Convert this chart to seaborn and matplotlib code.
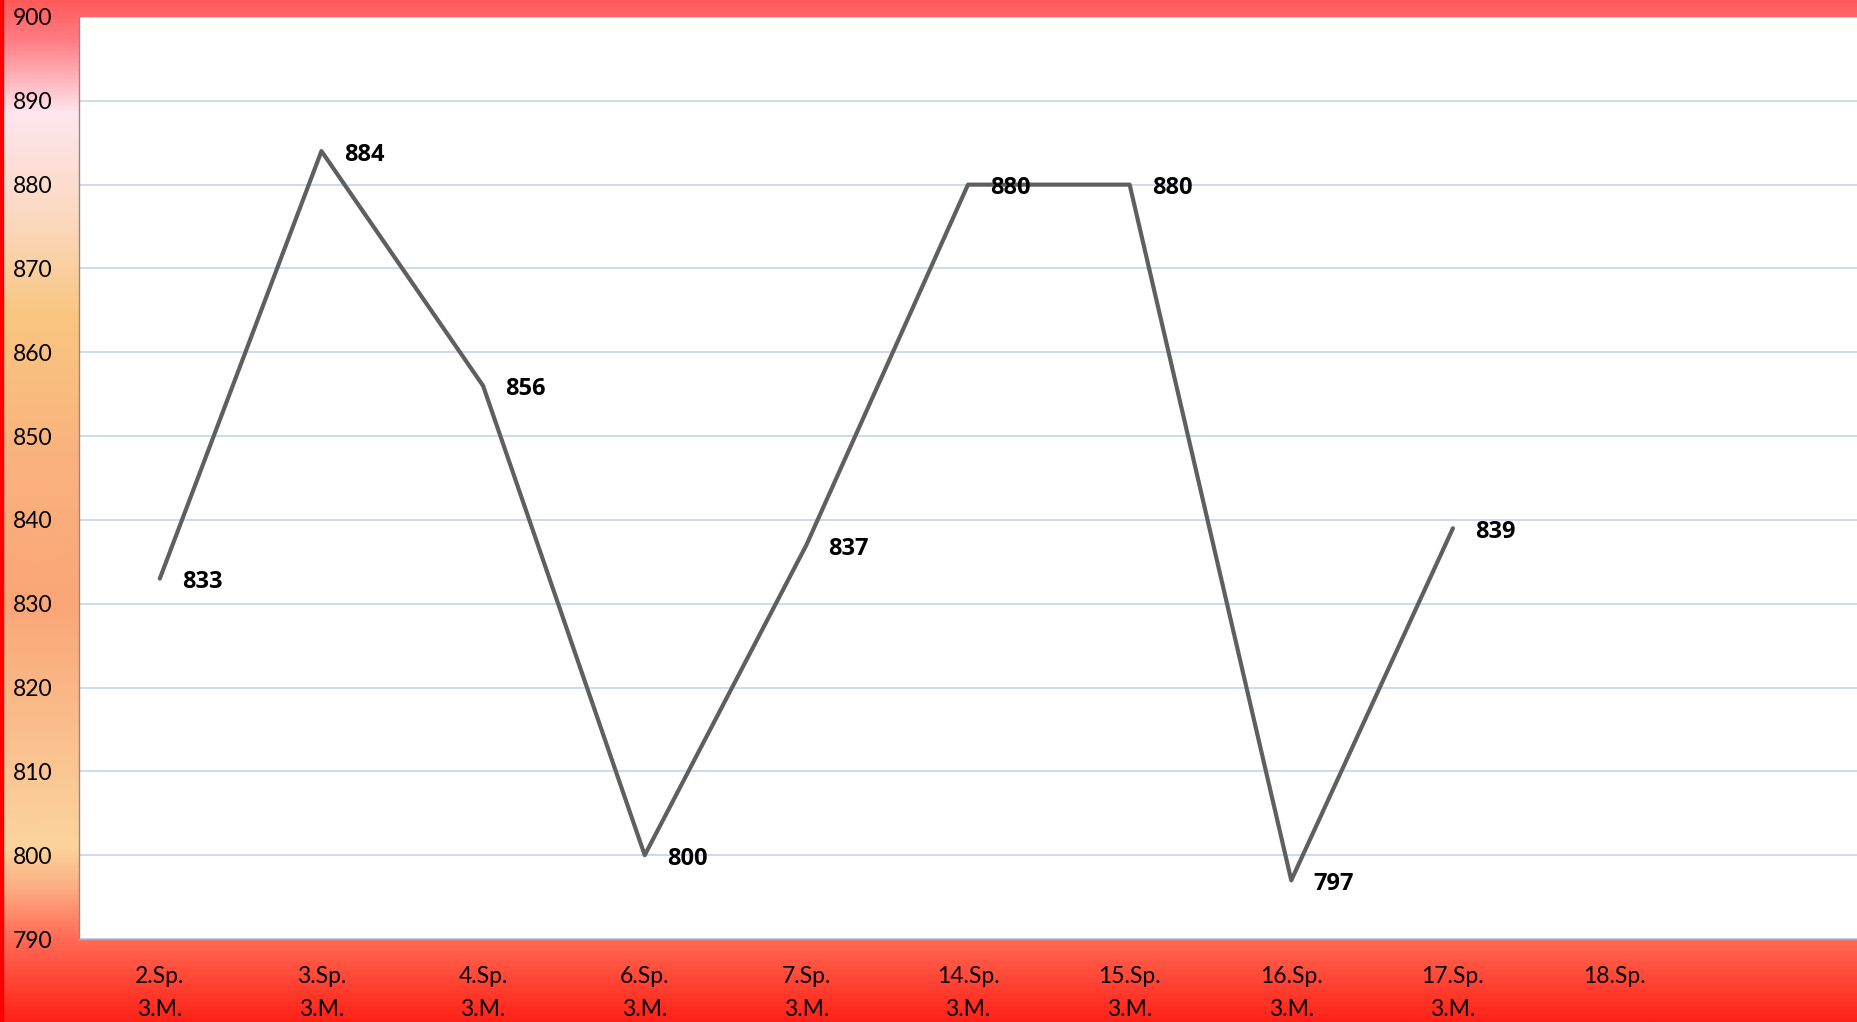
import matplotlib
matplotlib.use("Agg")
import matplotlib.pyplot as plt
import seaborn as sns
import numpy as np
import pandas as pd
from matplotlib.colors import LinearSegmentedColormap

# chart data
categories = ["2.Sp.\n3.M.", "3.Sp.\n3.M.", "4.Sp.\n3.M.", "6.Sp.\n3.M.", "7.Sp.\n3.M.",
              "14.Sp.\n3.M.", "15.Sp.\n3.M.", "16.Sp.\n3.M.", "17.Sp.\n3.M.", "18.Sp.", ""]
values = [833, 884, 856, 800, 837, 880, 880, 797, 839, np.nan, np.nan]
y_ticks = [790, 800, 810, 820, 830, 840, 850, 860, 870, 880, 890, 900]

sns.set_theme(style="white")
plt.rcParams['font.family'] = ['Lato', 'DejaVu Sans']

W, H = 1858, 1022
fig = plt.figure(figsize=(W / 100, H / 100), dpi=100)

# gradient background (top -> bottom)
bg_stops = [
    (0.00, "#ff5a5a"),
    (0.04, "#ff7f86"),
    (0.11, "#ffe6ee"),
    (0.22, "#fbd8bc"),
    (0.31, "#f9c680"),
    (0.45, "#fab27e"),
    (0.59, "#faa677"),
    (0.78, "#fbcb97"),
    (0.83, "#fbd49c"),
    (0.87, "#fcae82"),
    (0.92, "#ff6b55"),
    (1.00, "#ff2218"),
]
cmap = LinearSegmentedColormap.from_list("bg", bg_stops)
bg = fig.add_axes([0, 0, 1, 1], zorder=-10)
bg.imshow(np.linspace(0, 1, 512).reshape(-1, 1), aspect="auto", cmap=cmap,
          extent=[0, 1, 0, 1], origin="upper")
bg.axvspan(0, 3 / W, color="#ff0000")
bg.set_axis_off()

left, right, top, bottom = 79, 1857, 17, 939
ax = fig.add_axes([left / W, 1 - bottom / H, (right - left) / W, (bottom - top) / H])
ax.set_facecolor("white")

df = pd.DataFrame({"x": np.arange(len(categories)), "value": values})
sns.lineplot(data=df, x="x", y="value", ax=ax, color="#5f5f5f", linewidth=3.0, zorder=3)

for xi, v in zip(df["x"], df["value"]):
    if not np.isnan(v):
        ax.annotate(f"{int(v)}", (xi, v), xytext=(16, -2.5), textcoords="offset points",
                    ha="left", va="center", fontsize=17, fontweight="bold",
                    family=["Open Sans", "DejaVu Sans"], color="black", zorder=4)

ax.set_xlim(-0.5, len(categories) - 0.5)
ax.set_ylim(790, 900)
ax.set_yticks(y_ticks)
ax.set_xticks(df["x"])
ax.set_xticklabels(categories, linespacing=1.7)
ax.yaxis.grid(True, color="#c6d9f0", linewidth=1.3)
ax.xaxis.grid(False)
ax.tick_params(axis="y", length=0, pad=19, labelsize=16.5, labelcolor="black")
ax.tick_params(axis="x", length=0, pad=19.5, labelsize=16.5, labelcolor="black")
ax.set_xlabel("")
ax.set_ylabel("")

for side in ["top", "right"]:
    ax.spines[side].set_visible(False)
ax.spines["left"].set_color("#8a8a8a")
ax.spines["left"].set_linewidth(1.0)
ax.spines["bottom"].set_color("#a0aec0")
ax.spines["bottom"].set_linewidth(1.0)

fig.savefig("out.png", dpi=100)
